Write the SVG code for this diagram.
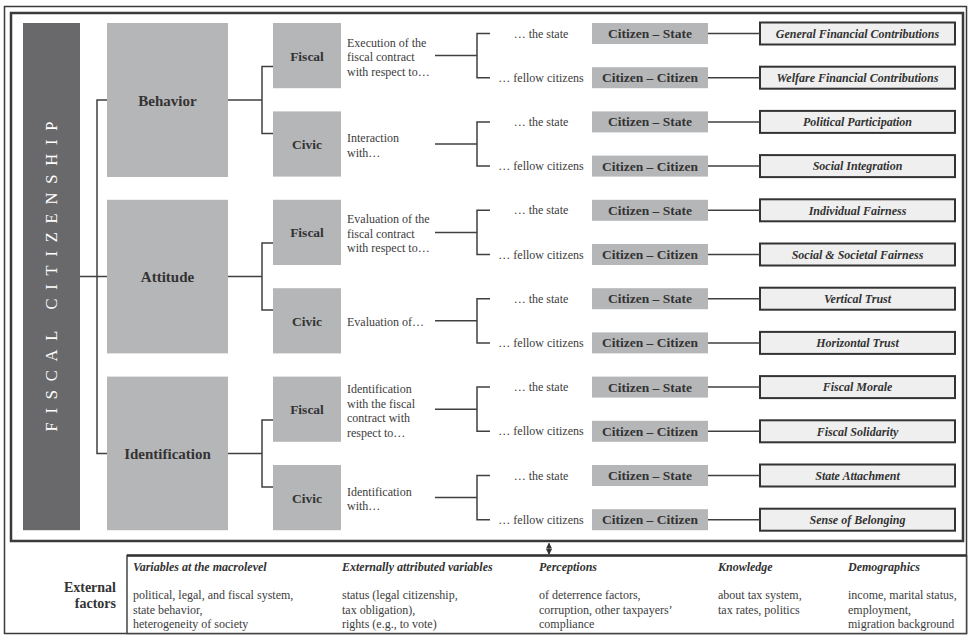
<svg xmlns="http://www.w3.org/2000/svg" width="970" height="635" viewBox="0 0 970 635" font-family="'Liberation Serif', 'DejaVu Serif', serif">
<style>
.frame{fill:none;stroke:#3a3a3a}
.main{fill:#b5b6b8}
.sub{fill:#b5b6b8}
.cit{fill:#b5b6b8}
.res{fill:#efefef;stroke:#333;stroke-width:2}
.ln{fill:none;stroke:#404040;stroke-width:1.5}
text{font-family:'Liberation Serif','DejaVu Serif',serif;fill:#333}
.mainT{font-size:15px;font-weight:bold;text-anchor:middle}
.subT{font-size:13.5px;font-weight:bold;text-anchor:middle}
.citT{font-size:13.5px;font-weight:bold;text-anchor:middle}
.resT{font-size:12px;font-weight:bold;font-style:italic;text-anchor:middle}
.desc{font-size:12px;fill:#3c3c3c}
.dir{font-size:12px;fill:#3c3c3c;text-anchor:middle}
.head{font-size:12px;font-weight:bold;font-style:italic}
.body{font-size:12px;fill:#3c3c3c}
.title{font-size:16.5px;fill:#ffffff;text-anchor:middle}
.ext{font-size:14px;font-weight:bold;text-anchor:end}
</style>
<defs>
<marker id="ah" viewBox="0 0 6 6" refX="5" refY="3" markerWidth="5" markerHeight="5" orient="auto-start-reverse">
<path d="M0,0 L6,3 L0,6 z" fill="#333"/>
</marker>
</defs>
<rect width="970" height="635" fill="#ffffff"/>
<rect class="frame" x="4.5" y="6.5" width="962" height="627" stroke-width="1.5"/>
<rect class="frame" x="11" y="13" width="952" height="528" stroke-width="2.5"/>

<g id="fiscal-citizenship">
<rect x="23" y="23" width="57" height="507.2" fill="#69696c"/>
<text class="title" transform="translate(57,276.6) rotate(-90)" textLength="310" lengthAdjust="spacing">FISCAL CITIZENSHIP</text>
</g>

<g id="behavior"><rect class="main" x="107" y="23" width="121" height="154"/><text class="mainT" x="167.5" y="105.5">Behavior</text></g>
<g id="attitude"><rect class="main" x="107" y="199.8" width="121" height="153.6"/><text class="mainT" x="167.5" y="282.1">Attitude</text></g>
<g id="identification"><rect class="main" x="107" y="376.6" width="121" height="153.6"/><text class="mainT" x="167.5" y="458.9">Identification</text></g>

<g id="behavior-fiscal"><rect class="sub" x="273" y="23" width="68" height="65.2"/><text class="subT" x="307" y="60.6">Fiscal</text>
<text class="desc" x="347" y="46.6">Execution of the</text><text class="desc" x="347" y="61.1">fiscal contract</text><text class="desc" x="347" y="75.6">with respect to…</text></g>
<g id="behavior-civic"><rect class="sub" x="273" y="111.4" width="68" height="65.2"/><text class="subT" x="307" y="149">Civic</text>
<text class="desc" x="347" y="142.2">Interaction</text><text class="desc" x="347" y="156.7">with…</text></g>
<g id="attitude-fiscal"><rect class="sub" x="273" y="199.8" width="68" height="65.2"/><text class="subT" x="307" y="237.4">Fiscal</text>
<text class="desc" x="347" y="223.4">Evaluation of the</text><text class="desc" x="347" y="237.9">fiscal contract</text><text class="desc" x="347" y="252.4">with respect to…</text></g>
<g id="attitude-civic"><rect class="sub" x="273" y="288.2" width="68" height="65.2"/><text class="subT" x="307" y="325.8">Civic</text>
<text class="desc" x="347" y="326.3">Evaluation of…</text></g>
<g id="identification-fiscal"><rect class="sub" x="273" y="376.6" width="68" height="65.2"/><text class="subT" x="307" y="414.2">Fiscal</text>
<text class="desc" x="347" y="393">Identification</text><text class="desc" x="347" y="407.5">with the fiscal</text><text class="desc" x="347" y="422">contract with</text><text class="desc" x="347" y="436.5">respect to…</text></g>
<g id="identification-civic"><rect class="sub" x="273" y="465" width="68" height="65.2"/><text class="subT" x="307" y="502.6">Civic</text>
<text class="desc" x="347" y="495.9">Identification</text><text class="desc" x="347" y="510.4">with…</text></g>

<g id="directions">
<text class="dir" x="541" y="37.5">… the state</text><text class="dir" x="541" y="81.7">… fellow citizens</text>
<text class="dir" x="541" y="125.9">… the state</text><text class="dir" x="541" y="170.1">… fellow citizens</text>
<text class="dir" x="541" y="214.3">… the state</text><text class="dir" x="541" y="258.5">… fellow citizens</text>
<text class="dir" x="541" y="302.7">… the state</text><text class="dir" x="541" y="346.9">… fellow citizens</text>
<text class="dir" x="541" y="391.1">… the state</text><text class="dir" x="541" y="435.3">… fellow citizens</text>
<text class="dir" x="541" y="479.5">… the state</text><text class="dir" x="541" y="523.7">… fellow citizens</text>
</g>

<g id="relations">
<rect class="cit" x="592" y="23" width="116" height="21"/><text class="citT" x="650" y="38">Citizen – State</text>
<rect class="cit" x="592" y="67.2" width="116" height="21"/><text class="citT" x="650" y="82.2">Citizen – Citizen</text>
<rect class="cit" x="592" y="111.4" width="116" height="21"/><text class="citT" x="650" y="126.4">Citizen – State</text>
<rect class="cit" x="592" y="155.6" width="116" height="21"/><text class="citT" x="650" y="170.6">Citizen – Citizen</text>
<rect class="cit" x="592" y="199.8" width="116" height="21"/><text class="citT" x="650" y="214.8">Citizen – State</text>
<rect class="cit" x="592" y="244" width="116" height="21"/><text class="citT" x="650" y="259">Citizen – Citizen</text>
<rect class="cit" x="592" y="288.2" width="116" height="21"/><text class="citT" x="650" y="303.2">Citizen – State</text>
<rect class="cit" x="592" y="332.4" width="116" height="21"/><text class="citT" x="650" y="347.4">Citizen – Citizen</text>
<rect class="cit" x="592" y="376.6" width="116" height="21"/><text class="citT" x="650" y="391.6">Citizen – State</text>
<rect class="cit" x="592" y="420.8" width="116" height="21"/><text class="citT" x="650" y="435.8">Citizen – Citizen</text>
<rect class="cit" x="592" y="465" width="116" height="21"/><text class="citT" x="650" y="480">Citizen – State</text>
<rect class="cit" x="592" y="509.2" width="116" height="21"/><text class="citT" x="650" y="524.2">Citizen – Citizen</text>
</g>

<g id="outcomes">
<rect class="res" x="760" y="22.5" width="195" height="22"/><text class="resT" x="857.5" y="37.7">General Financial Contributions</text>
<rect class="res" x="760" y="66.7" width="195" height="22"/><text class="resT" x="857.5" y="81.9">Welfare Financial Contributions</text>
<rect class="res" x="760" y="110.9" width="195" height="22"/><text class="resT" x="857.5" y="126.1">Political Participation</text>
<rect class="res" x="760" y="155.1" width="195" height="22"/><text class="resT" x="857.5" y="170.3">Social Integration</text>
<rect class="res" x="760" y="199.3" width="195" height="22"/><text class="resT" x="857.5" y="214.5">Individual Fairness</text>
<rect class="res" x="760" y="243.5" width="195" height="22"/><text class="resT" x="857.5" y="258.7">Social &amp; Societal Fairness</text>
<rect class="res" x="760" y="287.7" width="195" height="22"/><text class="resT" x="857.5" y="302.9">Vertical Trust</text>
<rect class="res" x="760" y="331.9" width="195" height="22"/><text class="resT" x="857.5" y="347.1">Horizontal Trust</text>
<rect class="res" x="760" y="376.1" width="195" height="22"/><text class="resT" x="857.5" y="391.3">Fiscal Morale</text>
<rect class="res" x="760" y="420.3" width="195" height="22"/><text class="resT" x="857.5" y="435.5">Fiscal Solidarity</text>
<rect class="res" x="760" y="464.5" width="195" height="22"/><text class="resT" x="857.5" y="479.7">State Attachment</text>
<rect class="res" x="760" y="508.7" width="195" height="22"/><text class="resT" x="857.5" y="523.9">Sense of Belonging</text>
</g>

<g id="connectors">
<path class="ln" d="M80,276.6 H107 M107,100 H97 V453.4 H107"/>
<path class="ln" d="M228,100 H262 M273,66.5 H262 V133.5 H273"/>
<path class="ln" d="M228,276.6 H262 M273,243.1 H262 V310.1 H273"/>
<path class="ln" d="M228,453.4 H262 M273,419.9 H262 V486.9 H273"/>
<path class="ln" d="M435,55.6 H477 M490,33.5 H477 V77.7 H490"/>
<path class="ln" d="M435,144 H477 M490,121.9 H477 V166.1 H490"/>
<path class="ln" d="M435,232.4 H477 M490,210.3 H477 V254.5 H490"/>
<path class="ln" d="M435,320.8 H477 M490,298.7 H477 V342.9 H490"/>
<path class="ln" d="M435,409.2 H477 M490,387.1 H477 V431.3 H490"/>
<path class="ln" d="M435,497.6 H477 M490,475.5 H477 V519.7 H490"/>
<path class="ln" d="M708,33.5 H760 M708,77.7 H760 M708,121.9 H760 M708,166.1 H760 M708,210.3 H760 M708,254.5 H760 M708,298.7 H760 M708,342.9 H760 M708,387.1 H760 M708,431.3 H760 M708,475.5 H760 M708,519.7 H760"/>
<line x1="549" y1="543.5" x2="549" y2="554" stroke="#333" stroke-width="1.2" marker-start="url(#ah)" marker-end="url(#ah)"/>
</g>

<g id="external-factors">
<text class="ext" x="116" y="592">External</text>
<text class="ext" x="116" y="608">factors</text>
<rect x="127" y="555.5" width="839.5" height="78" fill="#ffffff" stroke="#444" stroke-width="1.5"/>
<line x1="127" y1="555.5" x2="966.5" y2="555.5" stroke="#333" stroke-width="2.5"/>
<text class="head" x="133" y="571">Variables at the macrolevel</text>
<text class="body" x="133" y="599">political, legal, and fiscal system,</text>
<text class="body" x="133" y="614">state behavior,</text>
<text class="body" x="133" y="628">heterogeneity of society</text>
<text class="head" x="342" y="571">Externally attributed variables</text>
<text class="body" x="342" y="599">status (legal citizenship,</text>
<text class="body" x="342" y="614">tax obligation),</text>
<text class="body" x="342" y="628">rights (e.g., to vote)</text>
<text class="head" x="539" y="571">Perceptions</text>
<text class="body" x="539" y="599">of deterrence factors,</text>
<text class="body" x="539" y="614">corruption, other taxpayers’</text>
<text class="body" x="539" y="628">compliance</text>
<text class="head" x="718" y="571">Knowledge</text>
<text class="body" x="718" y="599">about tax system,</text>
<text class="body" x="718" y="614">tax rates, politics</text>
<text class="head" x="848" y="571">Demographics</text>
<text class="body" x="848" y="599">income, marital status,</text>
<text class="body" x="848" y="614">employment,</text>
<text class="body" x="848" y="628">migration background</text>
</g>
</svg>
